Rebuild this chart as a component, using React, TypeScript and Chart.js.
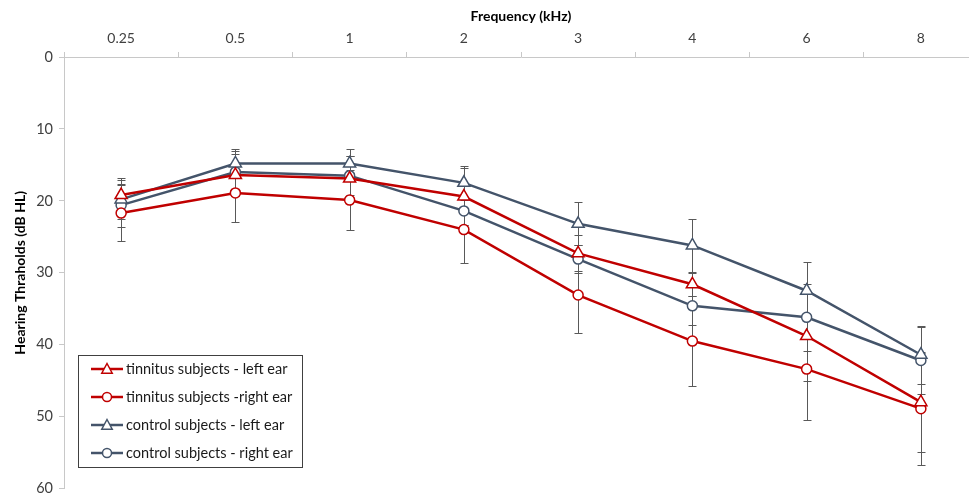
import React, { useEffect, useRef } from 'react';
import { Chart, registerables } from 'chart.js';

Chart.register(...registerables);

const frequencies = ['0.25', '0.5', '1', '2', '3', '4', '6', '8'];

const tinnitusLeft = [19.2, 16.4, 16.9, 19.4, 27.3, 31.6, 38.8, 48.0];
const tinnitusRight = [21.7, 18.9, 19.9, 24.0, 33.1, 39.5, 43.4, 48.9];
const controlLeft = [19.8, 14.8, 14.8, 17.5, 23.2, 26.2, 32.5, 41.4];
const controlRight = [20.6, 16.0, 16.5, 21.4, 28.1, 34.6, 36.2, 42.2];

const tinnitusLeftSD = [2.4, 2.9, 3.1, 3.9, 2.5, 1.6, 6.2, 6.9];
const tinnitusRightSD = [3.9, 4.0, 4.2, 4.6, 5.3, 6.2, 7.1, 7.9];
const controlLeftSD = [2.7, 2.0, 2.0, 2.4, 3.0, 3.7, 4.0, 4.0];
const controlRightSD = [3.0, 2.9, 2.7, 2.0, 2.0, 2.7, 4.7, 4.7];

const yTicks = [0, 10, 20, 30, 40, 50, 60];

const seriesLabels = [
  'tinnitus subjects - left ear',
  'tinnitus subjects -right ear',
  'control subjects - left ear',
  'control subjects - right ear',
];

const RED = '#C00000';
const SLATE = '#44546A';
const FONT = 'Lato, "Open Sans", sans-serif';

export default function App() {
  const ref = useRef<HTMLCanvasElement>(null);

  useEffect(() => {
    const sds = [tinnitusLeftSD, tinnitusRightSD, controlLeftSD, controlRightSD];

    const errorBars = {
      id: 'errorBars',
      beforeDatasetsDraw(chart: any) {
        const { ctx, scales } = chart;
        const xs = scales.x;
        const ys = scales.y;
        ctx.save();
        ctx.strokeStyle = '#595959';
        ctx.lineWidth = 1;
        chart.data.datasets.forEach((ds: any, di: number) => {
          const sd = sds[di];
          ds.data.forEach((v: number, i: number) => {
            const x = Math.round(xs.getPixelForValue(i)) + 0.5;
            const yTop = Math.round(ys.getPixelForValue(v - sd[i])) + 0.5;
            const yBot = Math.round(ys.getPixelForValue(v + sd[i])) + 0.5;
            ctx.beginPath();
            ctx.moveTo(x, yTop);
            ctx.lineTo(x, yBot);
            ctx.moveTo(x - 4, yTop);
            ctx.lineTo(x + 4, yTop);
            ctx.moveTo(x - 4, yBot);
            ctx.lineTo(x + 4, yBot);
            ctx.stroke();
          });
        });
        ctx.restore();
      },
    };

    const customLegend = {
      id: 'customLegend',
      afterDraw(chart: any) {
        const { ctx } = chart;
        const bx = 78.5, by = 355.5, bw = 224, bh = 112;
        ctx.save();
        ctx.fillStyle = '#ffffff';
        ctx.fillRect(bx, by, bw, bh);
        ctx.strokeStyle = '#404040';
        ctx.lineWidth = 1;
        ctx.strokeRect(bx, by, bw, bh);
        chart.data.datasets.forEach((ds: any, i: number) => {
          const cy = 369 + i * 28;
          const x0 = 91, x1 = 123, mx = 107;
          ctx.strokeStyle = ds.borderColor;
          ctx.lineWidth = 2.5;
          ctx.beginPath();
          ctx.moveTo(x0, cy);
          ctx.lineTo(x1, cy);
          ctx.stroke();
          ctx.fillStyle = '#ffffff';
          ctx.lineWidth = 1.5;
          ctx.beginPath();
          if (ds.pointStyle === 'triangle') {
            const r = 5.5;
            ctx.moveTo(mx, cy - r);
            ctx.lineTo(mx + r * 0.95, cy + r * 0.75);
            ctx.lineTo(mx - r * 0.95, cy + r * 0.75);
            ctx.closePath();
          } else {
            ctx.arc(mx, cy, 4.5, 0, Math.PI * 2);
          }
          ctx.fill();
          ctx.stroke();
          ctx.fillStyle = '#1a1a1a';
          ctx.font = '14.5px ' + FONT;
          ctx.textBaseline = 'middle';
          ctx.textAlign = 'left';
          ctx.fillText(ds.label, 126, cy);
        });
        ctx.restore();
      },
    };

    const mk = (label: string, data: number[], color: string, style: string) => ({
      label,
      data,
      borderColor: color,
      backgroundColor: '#ffffff',
      borderWidth: 2.5,
      pointStyle: style,
      pointRadius: style === 'triangle' ? 7 : 5,
      pointBorderWidth: 1.5,
      pointBackgroundColor: '#ffffff',
      pointBorderColor: color,
      tension: 0,
      fill: false,
    });

    const chart = new Chart(ref.current as HTMLCanvasElement, {
      type: 'line',
      data: {
        labels: frequencies,
        datasets: [
          mk(seriesLabels[0], tinnitusLeft, RED, 'triangle'),
          mk(seriesLabels[1], tinnitusRight, RED, 'circle'),
          mk(seriesLabels[2], controlLeft, SLATE, 'triangle'),
          mk(seriesLabels[3], controlRight, SLATE, 'circle'),
        ] as any,
      },
      options: {
        responsive: false,
        animation: false,
        layout: { padding: { left: 0, right: 12, top: 0, bottom: 8 } },
        plugins: { legend: { display: false }, tooltip: { enabled: false } },
        scales: {
          x: {
            type: 'category',
            position: 'top',
            offset: true,
            grid: { offset: true, drawOnChartArea: false, tickLength: 5, color: '#c8c8c8' },
            border: { color: '#c8c8c8' },
            ticks: { font: { family: FONT, size: 14 }, color: '#404040', padding: 5, maxRotation: 0 },
            title: {
              display: true,
              text: 'Frequency (kHz)',
              font: { family: FONT, size: 14, weight: 'bold' },
              color: '#000000',
              padding: { top: 8, bottom: 0 },
            },
            afterFit(s: any) {
              s.height = 57;
              s.paddingLeft = 0;
              s.paddingRight = 0;
            },
          },
          y: {
            min: 0,
            max: 60,
            reverse: true,
            afterBuildTicks(s: any) {
              s.ticks = yTicks.map((v) => ({ value: v }));
            },
            grid: { drawOnChartArea: false, tickLength: 5, color: '#c8c8c8' },
            border: { color: '#c8c8c8' },
            ticks: { font: { family: FONT, size: 14.5 }, color: '#404040', padding: 6 },
            title: {
              display: true,
              text: 'Hearing Thraholds (dB HL)',
              font: { family: FONT, size: 14, weight: 'bold' },
              color: '#000000',
              padding: { top: 12, bottom: 0 },
            },
            afterFit(s: any) {
              s.width = 64;
              s.paddingTop = 0;
              s.paddingBottom = 0;
            },
          },
        },
      } as any,
      plugins: [errorBars, customLegend],
    });
    return () => chart.destroy();
  }, []);

  return (
    <div
      style={{
        position: 'fixed',
        left: 0,
        top: 0,
        width: 969,
        height: 497,
        overflow: 'hidden',
        background: '#ffffff',
      }}
    >
      <canvas ref={ref} width={990} height={497} style={{ display: 'block' }} />
    </div>
  );
}
